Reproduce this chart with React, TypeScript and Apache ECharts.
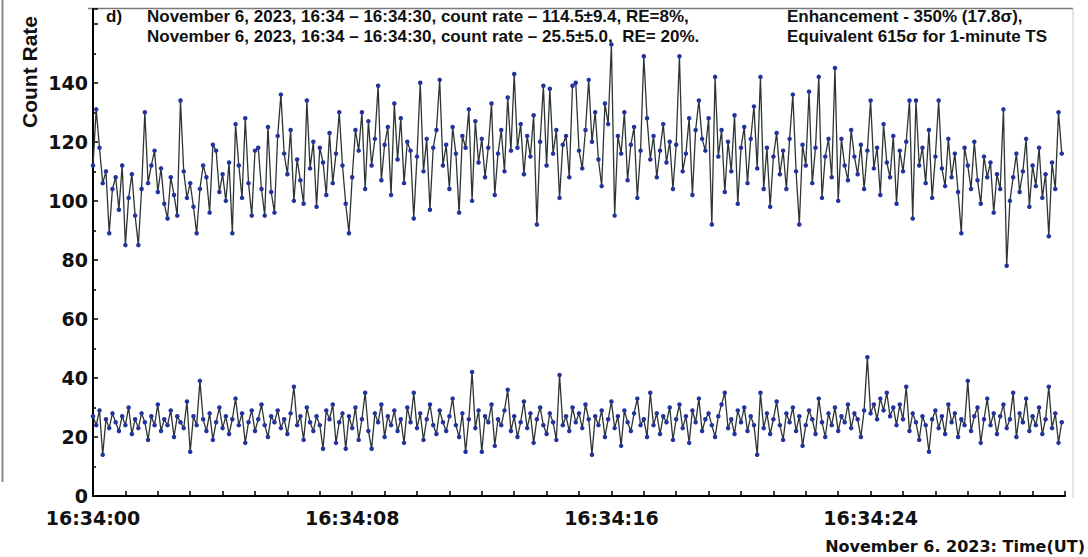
import React, { useEffect, useRef } from "react";
import * as echarts from "echarts";

// Count rate per 0.1 s bin, 16:34:00 – 16:34:30 UT, November 6, 2023
const UPPER_COUNTS: number[] = [
  112, 131, 118, 106, 110, 89, 104, 108, 97, 112,
  85, 101, 109, 95, 85, 104, 130, 106, 112, 117,
  103, 111, 99, 94, 108, 102, 95, 134, 110, 101,
  106, 98, 89, 104, 112, 108, 96, 119, 117, 103,
  109, 100, 113, 89, 126, 112, 101, 128, 106, 95,
  117, 118, 104, 95, 125, 103, 96, 122, 136, 116,
  109, 124, 100, 114, 107, 99, 134, 111, 120, 98,
  118, 113, 102, 123, 106, 116, 130, 112, 99, 89,
  108, 124, 117, 130, 104, 127, 112, 121, 139, 107,
  119, 125, 102, 133, 114, 128, 106, 120, 117, 94,
  115, 140, 110, 121, 97, 118, 124, 141, 112, 119,
  104, 125, 116, 96, 122, 118, 131, 100, 127, 113,
  121, 108, 118, 133, 102, 116, 124, 110, 135, 117,
  143, 118, 126, 109, 122, 115, 129, 92, 120, 139,
  112, 138, 116, 124, 101, 119, 122, 108, 139, 140,
  117, 111, 124, 141, 120, 130, 114, 105, 133, 126,
  153, 95, 122, 116, 130, 107, 119, 125, 101, 117,
  149, 128, 114, 122, 108, 117, 126, 113, 120, 104,
  119, 149, 110, 116, 128, 102, 124, 134, 121, 117,
  128, 92, 142, 115, 124, 103, 120, 110, 129, 99,
  118, 125, 106, 121, 132, 111, 142, 104, 118, 98,
  115, 123, 109, 117, 104, 121, 136, 110, 92, 119,
  112, 137, 106, 118, 142, 101, 115, 121, 108, 145,
  100, 121, 112, 107, 124, 115, 109, 119, 104, 117,
  134, 111, 118, 102, 126, 113, 108, 122, 99, 117,
  110, 120, 134, 94, 134, 112, 118, 106, 124, 101,
  115, 134, 111, 105, 121, 108, 116, 103, 89, 118,
  112, 104, 120, 107, 99, 115, 108, 113, 96, 109,
  104, 131, 78, 100, 108, 116, 103, 110, 121, 98,
  112, 105, 118, 101, 109, 88, 113, 104, 130, 116,
];

const LOWER_COUNTS: number[] = [
  27, 24, 29, 14, 26, 23, 28, 25, 22, 27,
  24, 30, 21, 26, 23, 28, 25, 19, 27, 24,
  31, 22, 26, 24, 29, 20, 27, 25, 23, 32,
  15, 27, 24, 39, 26, 22, 28, 19, 25, 30,
  23, 27, 21, 26, 33, 24, 28, 18, 25, 29,
  22, 26, 31, 24, 20, 27, 25, 29, 23, 26,
  21, 28, 37, 24, 27, 19, 30, 25, 22, 27,
  24, 16, 29, 26, 31, 18, 25, 28, 16, 27,
  23, 30, 19, 26, 35, 22, 16, 28, 25, 31,
  20, 27, 24, 29, 22, 26, 18, 30, 25, 35,
  23, 28, 19, 26, 31, 24, 21, 29, 25, 22,
  27, 33, 24, 20, 28, 15, 26, 42, 23, 29,
  15, 27, 25, 31, 17, 26, 24, 29, 36, 22,
  27, 20, 25, 32, 23, 28, 18, 26, 30, 24,
  21, 28, 25, 19, 41, 24, 27, 22, 30, 25,
  28, 23, 31, 26, 14, 27, 24, 29, 20, 26,
  32, 23, 27, 17, 29, 25, 22, 28, 33, 24,
  26, 20, 35, 24, 28, 21, 27, 25, 30, 19,
  26, 31, 23, 27, 18, 29, 25, 33, 22, 26,
  28, 24, 20, 27, 31, 35, 23, 26, 21, 29,
  25, 30, 22, 27, 24, 14, 35, 23, 28, 21,
  26, 32, 24, 19, 28, 25, 30, 22, 27, 17,
  24, 29, 26, 21, 33, 25, 20, 28, 24, 30,
  22, 27, 25, 31, 23, 28, 26, 20, 29, 47,
  28, 31, 26, 33, 29, 35, 27, 30, 24, 31,
  26, 37, 22, 28, 25, 19, 27, 24, 15, 26,
  29, 23, 27, 21, 31, 25, 28, 20, 26, 24,
  39, 22, 27, 30, 18, 26, 33, 24, 28, 21,
  27, 31, 23, 26, 35, 20, 28, 25, 33, 22,
  27, 24, 30, 21, 26, 37, 23, 28, 18, 25,
];

const BIN_SECONDS = 0.1;
const X_TICK_LABELS: Record<number, string> = {
  0: "16:34:00",
  8: "16:34:08",
  16: "16:34:16",
  24: "16:34:24",
};
const Y_TICK_LABELS: number[] = [0, 20, 40, 60, 80, 100, 120, 140];

const NOTE_LINE_1 = "November 6, 2023, 16:34 \u2013 16:34:30, count rate \u2013 114.5\u00b19.4, RE=8%,";
const NOTE_LINE_2 = "November 6, 2023, 16:34 \u2013 16:34:30, count rate \u2013 25.5\u00b15.0,  RE= 20%.";
const NOTE_RIGHT_1 = "Enhancement - 350% (17.8\u03c3),";
const NOTE_RIGHT_2 = "Equivalent 615\u03c3 for 1-minute TS";

export default function App() {
  const ref = useRef<HTMLDivElement>(null);

  useEffect(() => {
    if (!ref.current) return;
    const chart = echarts.init(ref.current, undefined, { renderer: "svg" });
    const upper = UPPER_COUNTS.map((v, i) => [i * BIN_SECONDS, v]);
    const lower = LOWER_COUNTS.map((v, i) => [i * BIN_SECONDS, v]);
    const noteFont = 'bold 17px "Liberation Sans", Arial, sans-serif';
    const seriesCommon = {
      type: "line" as const,
      symbol: "circle",
      symbolSize: 4.5,
      showSymbol: true,
      lineStyle: { color: "#2c3434", width: 1.3 },
      itemStyle: { color: "#2233a0", borderWidth: 0 },
      emphasis: { disabled: true },
      z: 3,
    };
    chart.setOption({
      animation: false,
      backgroundColor: "#ffffff",
      grid: { left: 93, right: 23, top: 9, bottom: 61, containLabel: false },
      xAxis: {
        type: "value",
        min: 0,
        max: 30,
        interval: 1,
        axisLine: { show: true, lineStyle: { color: "#000", width: 2 } },
        axisTick: { show: true, inside: true, length: 5, lineStyle: { color: "#000", width: 1.5 } },
        splitLine: { show: false },
        axisLabel: {
          show: true,
          margin: 12,
          color: "#111",
          fontFamily: '"DejaVu Sans", sans-serif',
          fontWeight: "bold",
          fontSize: 19,
          showMaxLabel: true,
          showMinLabel: true,
          formatter: (v: number) => X_TICK_LABELS[Math.round(v)] ?? "",
        },
      },
      yAxis: {
        type: "value",
        min: 0,
        max: 165,
        interval: 20,
        axisLine: { show: true, lineStyle: { color: "#000", width: 2 } },
        axisTick: { show: true, inside: true, length: 5, lineStyle: { color: "#000", width: 1.5 } },
        minorTick: { show: true, splitNumber: 2, length: 3, lineStyle: { color: "#000", width: 1.5 } },
        splitLine: { show: false },
        axisLabel: {
          show: true,
          margin: 5,
          color: "#111",
          fontFamily: '"DejaVu Sans", sans-serif',
          fontWeight: "bold",
          fontSize: 19,
          formatter: (v: number) => {
            const r = Math.round(v);
            return Y_TICK_LABELS.includes(r) ? String(r) : "";
          },
        },
      },
      series: [
        { ...seriesCommon, name: "upper", data: upper },
        { ...seriesCommon, name: "lower", data: lower },
      ],
      graphic: [
        { type: "line", shape: { x1: 2.5, y1: 0, x2: 2.5, y2: 482 }, style: { stroke: "#8a8a8a", lineWidth: 2 } },
        { type: "line", shape: { x1: 88, y1: 8.5, x2: 1073, y2: 8.5 }, style: { stroke: "#7a7a7a", lineWidth: 1.5 } },
        { type: "line", shape: { x1: 1073, y1: 8.5, x2: 1073, y2: 498 }, style: { stroke: "#c8c8c8", lineWidth: 1 } },
        {
          type: "text",
          x: 29,
          y: 72,
          rotation: Math.PI / 2,
          style: {
            text: "Count Rate",
            font: 'bold 21px "Liberation Sans", Arial, sans-serif',
            fill: "#111",
            textAlign: "center",
            textVerticalAlign: "middle",
          },
        },
        { type: "text", x: 106, y: 16, style: { text: "d)", font: noteFont, fill: "#111", textAlign: "left", textVerticalAlign: "middle" } },
        { type: "text", x: 147, y: 16, style: { text: NOTE_LINE_1, font: noteFont, fill: "#111", textAlign: "left", textVerticalAlign: "middle" } },
        { type: "text", x: 147, y: 36, style: { text: NOTE_LINE_2, font: noteFont, fill: "#111", textAlign: "left", textVerticalAlign: "middle" } },
        { type: "text", x: 787, y: 16, style: { text: NOTE_RIGHT_1, font: noteFont, fill: "#111", textAlign: "left", textVerticalAlign: "middle" } },
        { type: "text", x: 787, y: 36, style: { text: NOTE_RIGHT_2, font: noteFont, fill: "#111", textAlign: "left", textVerticalAlign: "middle" } },
        {
          type: "text",
          x: 1085,
          y: 546,
          style: {
            text: "November 6. 2023: Time(UT)",
            font: 'bold 16px "DejaVu Sans", sans-serif',
            fill: "#111",
            textAlign: "right",
            textVerticalAlign: "middle",
          },
        },
      ],
    });
    return () => chart.dispose();
  }, []);

  return (
    <div
      ref={ref}
      style={{ position: "absolute", left: 0, top: 0, width: 1088, height: 557, background: "#fff" }}
    />
  );
}
